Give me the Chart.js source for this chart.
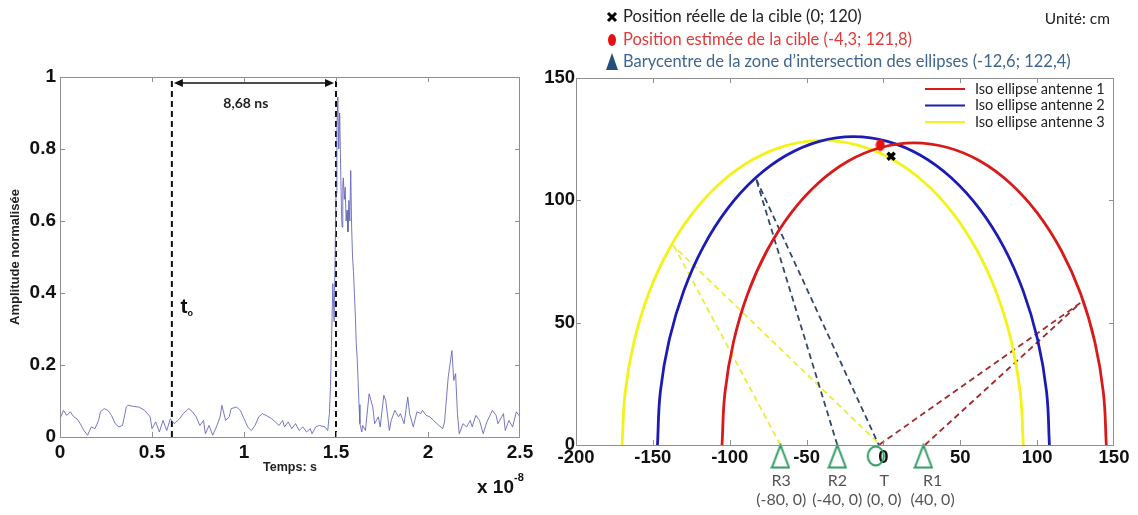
<!DOCTYPE html>
<html>
<head>
<meta charset="utf-8">
<script src="https://cdn.jsdelivr.net/npm/chart.js@4.4.1/dist/chart.umd.min.js"></script>
<style>
    body { margin: 0; background: #fff; width: 1138px; height: 515px; overflow: hidden; position: relative; }
    #left { position: absolute; left: 0; top: 0; width: 540px; height: 515px; }
    #right { position: absolute; left: 540px; top: 0; width: 598px; height: 515px; }
</style>
</head>
<body>
<div id="left"><canvas id="signalChart" width="540" height="515"></canvas></div>
<div id="right"><canvas id="ellipseChart" width="598" height="515"></canvas></div>
<script>
// --- Left panel: received signal (time in units of 1e-8 s) ---
const signalTime = [
    0, 0.019, 0.037, 0.056, 0.075, 0.093, 0.11, 0.13, 0.15, 0.17,
    0.19, 0.21, 0.22, 0.24, 0.26, 0.28, 0.30, 0.32, 0.34, 0.36,
    0.37, 0.40, 0.43, 0.46, 0.49, 0.50, 0.52, 0.54, 0.56, 0.58,
    0.60, 0.62, 0.64, 0.65, 0.67, 0.70, 0.72, 0.74, 0.76, 0.78,
    0.79, 0.81, 0.83, 0.85, 0.87, 0.88, 0.90, 0.92, 0.93, 0.96,
    0.98, 1.00, 1.02, 1.04, 1.06, 1.08, 1.10, 1.12, 1.15, 1.17,
    1.19, 1.21, 1.22, 1.24, 1.26, 1.28, 1.30, 1.32, 1.34, 1.36,
    1.37, 1.39, 1.41, 1.44, 1.455, 1.464, 1.47, 1.483, 1.49, 1.50,
    1.505, 1.51, 1.515, 1.52, 1.524, 1.53, 1.533, 1.537, 1.54, 1.545,
    1.55, 1.555, 1.56, 1.565, 1.57, 1.575, 1.58, 1.585, 1.59, 1.595,
    1.60, 1.605, 1.61, 1.615, 1.62, 1.625, 1.63,
    1.64, 1.645, 1.66, 1.68, 1.70, 1.71, 1.73,
    1.74, 1.76, 1.77, 1.79, 1.80, 1.82, 1.84, 1.85, 1.87, 1.89,
    1.90, 1.92, 1.94, 1.96, 1.97, 1.99, 2.01, 2.03, 2.06, 2.08,
    2.09, 2.11, 2.13, 2.14, 2.15, 2.16, 2.17, 2.19, 2.21, 2.23,
    2.24, 2.26, 2.28, 2.30, 2.32, 2.35, 2.37, 2.38, 2.41, 2.42,
    2.44, 2.46, 2.48, 2.50
];
const signalAmp = [
    0.051, 0.074, 0.060, 0.070, 0.056, 0.050, 0.037, 0.018, 0.005, 0.028,
    0.023, 0.046, 0.070, 0.079, 0.074, 0.060, 0.037, 0.028, 0.032, 0.083,
    0.088, 0.085, 0.083, 0.074, 0.056, 0.023, 0.042, 0.014, 0.046, 0.018,
    0.051, 0.037, 0.046, 0.051, 0.065, 0.079, 0.070, 0.056, 0.032, 0.046,
    0.009, 0.032, 0.005, 0.028, 0.056, 0.088, 0.046, 0.056, 0.079, 0.083,
    0.074, 0.051, 0.028, 0.018, 0.032, 0.056, 0.065, 0.060, 0.051, 0.042,
    0.032, 0.046, 0.028, 0.042, 0.023, 0.037, 0.018, 0.028, 0.014, 0.023,
    0.009, 0.028, 0.032, 0.028, 0.018, 0.065, 0.140, 0.426, 0.320, 0.676,
    0.860, 0.944, 0.800, 0.900, 0.787, 0.620, 0.583, 0.700, 0.720, 0.660,
    0.694, 0.600, 0.630, 0.570, 0.657, 0.600, 0.740, 0.583, 0.500, 0.460,
    0.398, 0.340, 0.260, 0.220, 0.157, 0.090, 0.037,
    0.014, 0.032, 0.018, 0.120, 0.083, 0.037, 0.056,
    0.028, 0.116, 0.102, 0.018, 0.046, 0.074, 0.056, 0.065, 0.037, 0.111,
    0.065, 0.028, 0.070, 0.065, 0.074, 0.060, 0.056, 0.046, 0.032, 0.023,
    0.042, 0.167, 0.240, 0.157, 0.176, 0.065, 0.009, 0.037, 0.028, 0.046,
    0.028, 0.060, 0.046, 0.009, 0.042, 0.074, 0.060, 0.037, 0.065, 0.018,
    0.046, 0.028, 0.070, 0.056
];
const markerTimes = [0.608, 1.5];   // t0 and echo arrival
const delayLabel = '8,68 ns';

// --- Right panel: iso-ellipses (cm) ---
const redX = [145, 143.1, 137.5, 128.3, 115.8, 100.4, 82.5, 62.8, 41.7, 20, -1.7, -22.8, -42.5, -60.4, -75.8, -88.3, -97.5, -103.1, -105];
const redY = [0, 21.4, 42.2, 61.8, 79.4, 94.6, 107.0, 116.1, 121.6, 123.5, 121.6, 116.1, 107.0, 94.6, 79.4, 61.8, 42.2, 21.4, 0];
const blueX = [108, 106.1, 100.3, 90.9, 78.2, 62.5, 44.3, 24.1, 2.6, -19.5, -41.6, -63.1, -83.3, -101.5, -117.2, -129.9, -139.3, -145.1, -147];
const blueY = [0, 21.9, 43.1, 63.0, 81.0, 96.5, 109.1, 118.4, 124.1, 126, 124.1, 118.4, 109.1, 96.5, 81.0, 63.0, 43.1, 21.9, 0];
const yellowX = [91, 89.0, 83.1, 73.5, 60.5, 44.4, 25.8, 5.1, -16.8, -39.5, -62.2, -84.1, -104.8, -123.4, -139.5, -152.5, -162.1, -168.0, -170];
const yellowY = [0, 21.6, 42.6, 62.3, 80.0, 95.4, 107.8, 117.0, 122.6, 124.5, 122.6, 117.0, 107.8, 95.4, 80.0, 62.3, 42.6, 21.6, 0];

// reflection paths (receiver -> echo point -> transmitter)
const redRayX = [27, 128, -3];
const redRayY = [0, 58, 0];
const blueRayX = [-30, -83, -3];
const blueRayY = [0, 109, 0];
const yellowRayX = [-67, -136, -2];
const yellowRayY = [0, 81, 0];

const realTarget = [5, 118];
const estimatedTarget = [-2, 122.6];

const antennaNames = ['R3', 'R2', 'T', 'R1'];
const antennaCoords = ['(-80, 0)', '(-40, 0)', '(0, 0)', '(40, 0)'];
const antennaX = [-67, -30, -5, 26];
const antennaLabelX = [-66.5, -30, 0.5, 32];
const antennaY = -4.5;

const headerLines = [
    'Position réelle de la cible (0; 120)',
    'Position estimée de la cible (-4,3; 121,8)',
    'Barycentre de la zone d\u2019intersection des ellipses (-12,6; 122,4)'
];
const ellipseLabels = ['Iso ellipse antenne 1', 'Iso ellipse antenne 2', 'Iso ellipse antenne 3'];

const RED = '#d81a1a', BLUE = '#1c1cb4', YELLOW = '#f3f318', GREEN = '#2e9c62';
const SANS = "'Liberation Sans', Arial, sans-serif";
const CAL = "Lato, 'Open Sans', sans-serif";

function toPoints(xs, ys) {
    return xs.map((x, i) => ({ x: x, y: ys[i] }));
}

function drawInnerTicks(ctx, a, x, y, len) {
    ctx.beginPath();
    x.ticks.forEach(t => {
        const px = Math.round(x.getPixelForValue(t.value)) + 0.5;
        if (px <= a.left + 1 || px >= a.right - 1) return;
        ctx.moveTo(px, a.bottom); ctx.lineTo(px, a.bottom - len);
        ctx.moveTo(px, a.top); ctx.lineTo(px, a.top + len);
    });
    y.ticks.forEach(t => {
        const py = Math.round(y.getPixelForValue(t.value)) + 0.5;
        if (py <= a.top + 1 || py >= a.bottom - 1) return;
        ctx.moveTo(a.left, py); ctx.lineTo(a.left + len, py);
        ctx.moveTo(a.right, py); ctx.lineTo(a.right - len, py);
    });
    ctx.stroke();
}

const plainNumber = v => Number(v.toFixed(2)).toString();

// --- Left chart ---
const signalDecor = {
    id: 'signalDecor',
    afterDatasetsDraw(chart) {
        const { ctx, chartArea: a, scales: { x, y } } = chart;
        ctx.save();
        ctx.strokeStyle = '#8f8f8f';
        ctx.lineWidth = 1;
        ctx.strokeRect(a.left + 0.5, a.top + 0.5, a.right - a.left - 1, a.bottom - a.top);
        drawInnerTicks(ctx, a, x, y, 5);

        // double arrow between the two markers
        const ay = y.getPixelForValue(0.983);
        const x1 = x.getPixelForValue(markerTimes[0]) + 2;
        const x2 = x.getPixelForValue(markerTimes[1]) - 2;
        ctx.strokeStyle = '#111';
        ctx.fillStyle = '#111';
        ctx.lineWidth = 1.5;
        ctx.beginPath(); ctx.moveTo(x1 + 4, ay); ctx.lineTo(x2 - 4, ay); ctx.stroke();
        ctx.beginPath(); ctx.moveTo(x1, ay); ctx.lineTo(x1 + 9, ay - 4); ctx.lineTo(x1 + 9, ay + 4); ctx.closePath(); ctx.fill();
        ctx.beginPath(); ctx.moveTo(x2, ay); ctx.lineTo(x2 - 9, ay - 4); ctx.lineTo(x2 - 9, ay + 4); ctx.closePath(); ctx.fill();

        ctx.textAlign = 'center';
        ctx.textBaseline = 'middle';
        ctx.font = 'bold 14px ' + CAL;
        ctx.fillStyle = '#222';
        ctx.fillText(delayLabel, x.getPixelForValue(1.01), y.getPixelForValue(0.926));

        // t0 label
        ctx.textAlign = 'left';
        ctx.font = 'bold 21px ' + SANS;
        ctx.fillStyle = '#111';
        const tx = x.getPixelForValue(0.655), ty = y.getPixelForValue(0.36);
        ctx.fillText('t', tx, ty);
        ctx.font = 'bold 9px ' + SANS;
        ctx.fillText('o', tx + 7, ty + 6);

        // axis titles
        ctx.textAlign = 'center';
        ctx.font = 'bold 12.5px ' + SANS;
        ctx.fillStyle = '#222';
        ctx.fillText('Temps: s', x.getPixelForValue(1.25), 468);
        ctx.save();
        ctx.translate(15, y.getPixelForValue(0.5));
        ctx.rotate(-Math.PI / 2);
        ctx.font = 'bold 13px ' + SANS;
        ctx.fillText('Amplitude normalisée', 0, 0);
        ctx.restore();

        // exponent
        ctx.textAlign = 'left';
        ctx.font = 'bold 19px ' + SANS;
        ctx.fillStyle = '#111';
        ctx.fillText('x 10', 477, 488);
        ctx.font = 'bold 11px ' + SANS;
        ctx.fillText('-8', 514, 478);
        ctx.restore();
    }
};

new Chart(document.getElementById('signalChart'), {
    type: 'scatter',
    data: {
        datasets: [
            {
                data: toPoints(signalTime, signalAmp),
                showLine: true,
                borderColor: 'rgba(96, 96, 184, 0.85)',
                borderWidth: 1,
                pointRadius: 0
            },
            {
                data: [{ x: markerTimes[0], y: 0 }, { x: markerTimes[0], y: 1 }],
                showLine: true,
                borderColor: '#111',
                borderWidth: 2,
                borderDash: [6, 4],
                pointRadius: 0
            },
            {
                data: [{ x: markerTimes[1], y: 0 }, { x: markerTimes[1], y: 1 }],
                showLine: true,
                borderColor: '#111',
                borderWidth: 2,
                borderDash: [6, 4],
                pointRadius: 0
            }
        ]
    },
    options: {
        responsive: false,
        animation: false,
        layout: { padding: { top: 77, right: 20, left: 0, bottom: 0 } },
        plugins: { legend: { display: false }, tooltip: { enabled: false } },
        scales: {
            x: {
                type: 'linear', min: 0, max: 2.5,
                afterFit(s) { s.height = 78; },
                grid: { display: false, drawTicks: false },
                border: { display: false },
                ticks: { stepSize: 0.5, padding: 4, color: '#111', callback: plainNumber, font: { family: SANS, size: 19, weight: 'bold' } }
            },
            y: {
                min: 0, max: 1,
                afterFit(s) { s.width = 60; },
                grid: { display: false, drawTicks: false },
                border: { display: false },
                ticks: { stepSize: 0.2, padding: 4, color: '#111', callback: plainNumber, font: { family: SANS, size: 19, weight: 'bold' } }
            }
        }
    },
    plugins: [signalDecor]
});

// --- Right chart ---
function makeMarker(w, h, draw) {
    const c = document.createElement('canvas');
    c.width = w; c.height = h;
    draw(c.getContext('2d'));
    return c;
}
const triangleIcon = makeMarker(20, 26, g => {
    g.strokeStyle = GREEN; g.lineWidth = 2;
    g.beginPath(); g.moveTo(10, 2); g.lineTo(18.5, 24.5); g.lineTo(1.5, 24.5); g.closePath(); g.stroke();
});
const ovalIcon = makeMarker(20, 24, g => {
    g.strokeStyle = GREEN; g.lineWidth = 2;
    g.beginPath(); g.ellipse(10, 12, 8, 9.5, 0, 0, Math.PI * 2); g.stroke();
});
const redDot = makeMarker(10, 13, g => {
    g.fillStyle = '#e81010';
    g.beginPath(); g.ellipse(5, 6.5, 4.5, 6, 0, 0, Math.PI * 2); g.fill();
});

const ellipseDecor = {
    id: 'ellipseDecor',
    afterDraw(chart) {
        const { ctx, chartArea: a, scales: { x, y } } = chart;
        ctx.save();
        ctx.strokeStyle = '#8f8f8f';
        ctx.lineWidth = 1;
        ctx.strokeRect(a.left + 0.5, a.top + 0.5, a.right - a.left - 1, a.bottom - a.top);
        drawInnerTicks(ctx, a, x, y, 5);

        // inner legend
        const legendColors = [RED, BLUE, YELLOW];
        ctx.textBaseline = 'middle';
        ctx.textAlign = 'left';
        ctx.font = '14.5px ' + CAL;
        ellipseLabels.forEach((label, i) => {
            const ly = 89 + i * 16.5;
            ctx.strokeStyle = legendColors[i];
            ctx.lineWidth = 2;
            ctx.beginPath(); ctx.moveTo(385, ly); ctx.lineTo(425, ly); ctx.stroke();
            ctx.fillStyle = '#222';
            ctx.fillText(label, 435, ly);
        });

        // header legend
        ctx.font = '16.5px ' + CAL;
        const headerColors = ['#222', '#e03a3a', '#3e6690'];
        headerLines.forEach((line, i) => {
            ctx.fillStyle = headerColors[i];
            ctx.fillText(line, 83, 17 + i * 22.5);
        });
        // symbols
        ctx.strokeStyle = '#000'; ctx.lineWidth = 3;
        ctx.beginPath(); ctx.moveTo(68, 13); ctx.lineTo(76, 21); ctx.moveTo(76, 13); ctx.lineTo(68, 21); ctx.stroke();
        ctx.fillStyle = '#e81010';
        ctx.beginPath(); ctx.ellipse(72, 40, 4, 6, 0, 0, Math.PI * 2); ctx.fill();
        ctx.fillStyle = '#24507e';
        ctx.beginPath(); ctx.moveTo(72, 53); ctx.lineTo(78, 70); ctx.lineTo(66, 70); ctx.closePath(); ctx.fill();

        ctx.fillStyle = '#222';
        ctx.font = '15.5px ' + CAL;
        ctx.textAlign = 'right';
        ctx.fillText('Unité: cm', 570, 19);

        // antenna labels
        ctx.textAlign = 'center';
        ctx.fillStyle = '#555';
        ctx.font = '16px ' + CAL;
        antennaNames.forEach((name, i) => {
            const px = x.getPixelForValue(antennaLabelX[i]);
            ctx.fillText(name, px, 481);
            ctx.fillText(antennaCoords[i], px, 500);
        });
        ctx.restore();
    }
};

const lineStyle = (color) => ({ showLine: true, borderColor: color, borderWidth: 2.8, pointRadius: 0, tension: 0.4, order: 2 });
const rayStyle = (color) => ({ showLine: true, borderColor: color, borderWidth: 1.8, borderDash: [6, 4], pointRadius: 0, tension: 0, order: 3 });

new Chart(document.getElementById('ellipseChart'), {
    type: 'scatter',
    data: {
        datasets: [
            Object.assign({ data: toPoints(redX, redY) }, lineStyle(RED)),
            Object.assign({ data: toPoints(blueX, blueY) }, lineStyle(BLUE)),
            Object.assign({ data: toPoints(yellowX, yellowY) }, lineStyle(YELLOW)),
            Object.assign({ data: toPoints(redRayX, redRayY) }, rayStyle('#a32a2a')),
            Object.assign({ data: toPoints(blueRayX, blueRayY) }, rayStyle('#34486a')),
            Object.assign({ data: toPoints(yellowRayX, yellowRayY) }, rayStyle('#ecec3a')),
            {
                data: [{ x: estimatedTarget[0], y: estimatedTarget[1] }],
                pointStyle: redDot, pointRadius: 6, order: 0
            },
            {
                data: [{ x: realTarget[0], y: realTarget[1] }],
                pointStyle: 'crossRot', pointRadius: 5, borderWidth: 3.5, borderColor: '#000', order: 0
            },
            {
                data: antennaX.map(v => ({ x: v, y: antennaY })),
                pointStyle: antennaNames.map(n => n === 'T' ? ovalIcon : triangleIcon),
                pointRadius: 24, borderWidth: 0, clip: false, order: 1
            }
        ]
    },
    options: {
        responsive: false,
        animation: false,
        layout: { padding: { top: 78, right: 22, left: 0, bottom: 0 } },
        plugins: { legend: { display: false }, tooltip: { enabled: false } },
        scales: {
            x: {
                type: 'linear', min: -200, max: 150,
                afterFit(s) { s.height = 70; },
                grid: { display: false, drawTicks: false },
                border: { display: false },
                ticks: { stepSize: 50, padding: 2, color: '#111', font: { family: SANS, size: 18.5, weight: 'bold' } }
            },
            y: {
                min: 0, max: 150,
                afterFit(s) { s.width = 36; },
                grid: { display: false, drawTicks: false },
                border: { display: false },
                ticks: { stepSize: 50, padding: 1, color: '#111', font: { family: SANS, size: 18.5, weight: 'bold' } }
            }
        }
    },
    plugins: [ellipseDecor]
});
</script>
</body>
</html>
